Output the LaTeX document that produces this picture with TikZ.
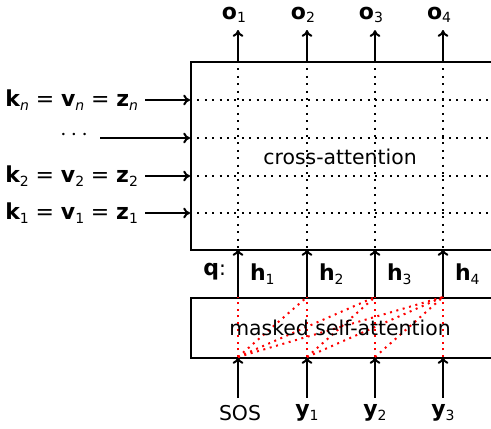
\documentclass[tikz,border=0pt]{standalone}
\usepackage{fontspec}
\setmainfont{DejaVu Sans}
\usetikzlibrary{arrows.meta}
\newcommand{\bigsize}{\fontsize{11}{13}\selectfont}
\newcommand{\bvec}[2]{{\bigsize\bfseries #1}\raisebox{-1.8pt}{\fontsize{7}{8}\selectfont #2}}
\newcommand{\eqsign}{\hspace{3.4pt}{\bigsize=}\hspace{3.4pt}}
\newcommand{\kvz}[1]{\bvec{k}{#1}\eqsign\bvec{v}{#1}\eqsign\bvec{z}{#1}}
\begin{document}
\begin{tikzpicture}[x=0.5pt,y=-0.5pt,>={To[length=3.4pt,width=5.4pt]},font=\fontsize{10.2}{12}\selectfont]
    \tikzset{layer/.style={draw, line width=1pt, anchor=north west, inner sep=0pt, minimum width=160pt},
        flow/.style={->, line width=1pt},
        grid/.style={line width=1pt, dash pattern=on 1pt off 2.7pt},
        mask/.style={red, line width=1pt, dash pattern=on 1pt off 2.3pt}}
    \clip (0,0) rectangle (491,428);
    \node[layer, minimum height=94pt] (cross) at (190,61) {};
    \node[layer, minimum height=30pt] (masked) at (190,297) {};
    % columns
    \foreach \i/\x in {1/238,2/307,3/375,4/443} {
        \coordinate (ct\i) at (\x,61);
        \coordinate (cb\i) at (\x,249);
        \coordinate (mt\i) at (\x,297);
        \coordinate (mb\i) at (\x,357);
        \draw[grid] (ct\i) -- (cb\i);
        \node (o\i) at (\x-4,15) {\bvec{o}{\i}};
        \draw[flow] (ct\i) -- (ct\i |- o\i.south);
        \node[anchor=west] (h\i) at (\x+5,274) {\bvec{h}{\i}};
        \draw[flow] (mt\i) -- (cb\i);
    }
    \node (in1) at (240,413) {SOS};
    \node (in2) at (307,413) {\bvec{y}{1}};
    \node (in3) at (375,413) {\bvec{y}{2}};
    \node (in4) at (443,413) {\bvec{y}{3}};
    \foreach \i in {1,...,4} {
        \draw[flow] (mb\i |- in\i.north) -- (mb\i);
        \foreach \j in {\i,...,4}
            \draw[mask] (mb\i) -- (mt\j);
    }
    \node[anchor=east] (q) at (233,272) {{\bigsize\bfseries q}:};
    % keys and values
    \node[anchor=east] (kn) at (145,100) {\kvz{\textit{n}}};
    \node (kdots) at (74,135) {\large$\cdots$};
    \node[anchor=east] (k2) at (145,176) {\kvz{2}};
    \node[anchor=east] (k1) at (145,213) {\kvz{1}};
    \foreach \k in {kn,k2,k1} {
        \draw[flow] (\k.east) -- (\k.east -| cross.west);
        \draw[grid] (\k.east -| cross.west) -- (\k.east -| cross.east);
    }
    \draw[flow] (100,138) -- (cross.west |- 0,138);
    \draw[grid] (cross.west |- 0,138) -- (cross.east |- 0,138);
    \node (xtext) at (340,157) {cross-attention};
    \node (mtext) at (340,328) {masked self-attention};
\end{tikzpicture}
\end{document}
